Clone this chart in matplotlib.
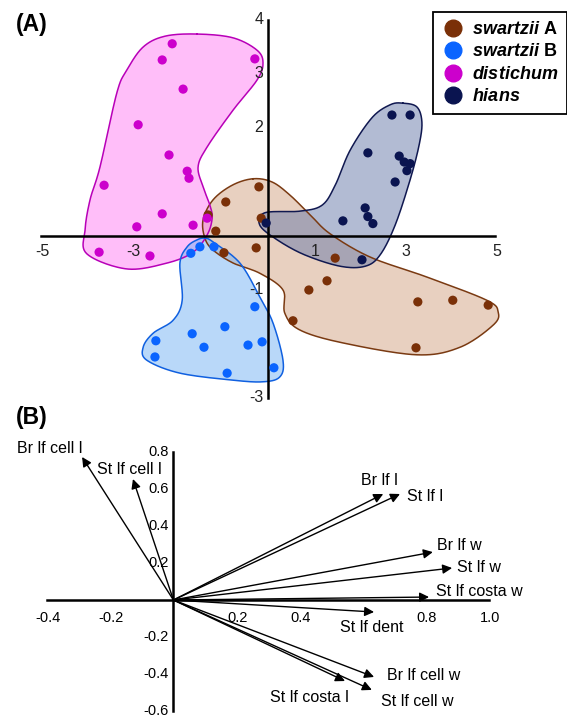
import matplotlib
matplotlib.use('Agg')
import matplotlib.pyplot as plt
from matplotlib.lines import Line2D
import numpy as np

plt.rcParams['font.family'] = ['Liberation Sans', 'DejaVu Sans']
plt.rcParams['mathtext.fontset'] = 'custom'
plt.rcParams['mathtext.it'] = 'Liberation Sans:italic:bold'
plt.rcParams['mathtext.rm'] = 'Liberation Sans:bold'

# ---- (A) ordination scores ----
swA_x = [-0.20, -0.93, -1.32, -1.15, -0.15, -0.26, -0.97, 1.48, 1.30, 0.90, 3.30, 4.07, 4.85, 0.55, 3.26]
swA_y = [0.91, 0.63, 0.39, 0.09, 0.33, -0.22, -0.31, -0.41, -0.83, -1.00, -1.22, -1.19, -1.28, -1.57, -2.07]
swB_x = [-1.50, -1.70, -1.19, -0.29, -0.95, -1.67, -2.47, -1.41, -0.44, -0.13, -2.49, 0.13, -0.90]
swB_y = [-0.20, -0.32, -0.20, -1.31, -1.68, -1.81, -1.94, -2.06, -2.02, -1.96, -2.24, -2.44, -2.54]
dist_x = [-2.11, -2.33, -0.29, -1.87, -2.86, -2.18, -1.78, -1.74, -3.61, -2.33, -2.89, -1.65, -1.34, -3.72, -2.60]
dist_y = [3.56, 3.26, 3.28, 2.72, 2.06, 1.50, 1.20, 1.07, 0.94, 0.41, 0.17, 0.20, 0.33, -0.30, -0.37]
hians_x = [2.73, 3.13, 2.20, 2.89, 3.00, 3.13, 3.06, 2.80, 2.14, 2.20, 2.31, 1.65, -0.04, 2.07]
hians_y = [2.24, 2.24, 1.54, 1.48, 1.37, 1.34, 1.21, 1.00, 0.52, 0.36, 0.23, 0.28, 0.24, -0.44]

# hand-drawn group outlines (vertices in data units)
swA_outline = [(-0.33, 1.06), (0.09, 1.00), (0.48, 0.76), (0.93, 0.39), (1.37, 0.04), (2.25, -0.39),
               (3.50, -0.76), (4.82, -1.19), (5.07, -1.41), (4.96, -1.65), (4.23, -2.06), (3.28, -2.20),
               (1.65, -1.98), (0.70, -1.74), (0.37, -1.43), (0.33, -1.00), (-0.18, -0.69), (-0.77, -0.50),
               (-1.21, -0.26), (-1.39, -0.04), (-1.43, 0.30), (-1.21, 0.67), (-0.79, 0.94)]
swB_outline = [(-1.39, -0.04), (-1.21, -0.11), (-0.62, -0.50), (-0.18, -1.13), (0.11, -1.61), (0.33, -2.30),
               (0.26, -2.61), (-0.11, -2.70), (-0.77, -2.67), (-1.94, -2.54), (-2.67, -2.30), (-2.75, -2.06),
               (-2.53, -1.80), (-2.09, -1.56), (-1.89, -1.19), (-1.94, -0.50), (-1.78, -0.20), (-1.56, -0.07)]
dist_outline = [(-1.56, 3.74), (-0.77, 3.67), (-0.24, 3.44), (-0.11, 3.20), (-0.24, 2.89), (-0.77, 2.33),
                (-1.34, 1.65), (-1.54, 1.28), (-1.43, 0.91), (-1.28, 0.57), (-1.23, 0.33), (-1.34, 0.02),
                (-1.65, -0.30), (-2.22, -0.50), (-3.11, -0.61), (-3.99, -0.33), (-4.03, 0.11), (-3.92, 0.67),
                (-3.70, 1.28), (-3.33, 2.65), (-3.11, 3.07), (-2.75, 3.50), (-2.27, 3.70)]
hians_outline = [(2.97, 2.46), (3.28, 2.39), (3.39, 2.11), (3.33, 1.69), (3.13, 1.04), (2.80, 0.20),
                 (2.47, -0.35), (2.14, -0.56), (1.59, -0.56), (0.81, -0.35), (0.20, -0.07), (-0.18, 0.20),
                 (-0.07, 0.43), (0.70, 0.46), (1.19, 0.57), (1.48, 0.94), (1.81, 1.59), (2.29, 2.19), (2.69, 2.43)]

a_xticks = [-5, -3, 1, 3, 5]
a_yticks = [4, 3, 2, -1, -3]

# ---- (B) variable loadings ----
var_names = ['Br lf cell l', 'St lf cell l', 'Br lf l', 'St lf l', 'Br lf w', 'St lf w',
             'St lf costa w', 'St lf dent', 'Br lf cell w', 'St lf cell w', 'St lf costa l']
load_x = [-0.289, -0.128, 0.664, 0.717, 0.821, 0.882, 0.809, 0.635, 0.635, 0.628, 0.543]
load_y = [0.773, 0.654, 0.573, 0.573, 0.259, 0.173, 0.016, -0.065, -0.416, -0.486, -0.438]
b_xticks = [-0.4, -0.2, 0.2, 0.4, 0.8, 1.0]
b_yticks = [0.8, 0.6, 0.4, 0.2, -0.2, -0.4, -0.6]

# label offsets from arrow tip (points) and alignment
lab_off = [(0, 6), (-26, 7), (-16, 10), (5, -2), (3, 5), (3.5, 0.7), (5, 4.3),
           (-24.5, -11.5), (9.4, 0.7), (6.5, -8.6), (-54, -12.2)]
lab_ha = ['right'] + ['left'] * 10


def smooth_closed(pts, n=24):
    # closed Catmull-Rom curve through the outline vertices
    P = np.asarray(pts, dtype=float)
    N = len(P)
    t = np.linspace(0, 1, n, endpoint=False)[:, None]
    segs = []
    for i in range(N):
        p0, p1, p2, p3 = P[i - 1], P[i], P[(i + 1) % N], P[(i + 2) % N]
        segs.append(0.5 * (2 * p1 + (-p0 + p2) * t + (2 * p0 - 5 * p1 + 4 * p2 - p3) * t ** 2
                           + (-p0 + 3 * p1 - 3 * p2 + p3) * t ** 3))
    return np.vstack(segs)


W, H = 567, 719
fig = plt.figure(figsize=(W / 100, H / 100), dpi=100)

# ---------- panel A ----------
axA = fig.add_axes([0, 1 - 405 / H, 1, 405 / H])
axA.set_xlim(-268 / 45.4, (W - 268) / 45.4)
axA.set_ylim((236 - 405) / 54, 236 / 54)
axA.axis('off')

groups = [
    ('swA', swA_x, swA_y, swA_outline, '#7a3008', '#d2a283', '#7a3a12'),
    ('hians', hians_x, hians_y, hians_outline, '#0a1450', '#6779a9', '#101850'),
    ('dist', dist_x, dist_y, dist_outline, '#cc00cc', '#ff7ff4', '#b800b8'),
    ('swB', swB_x, swB_y, swB_outline, '#0a64ff', '#75b3f5', '#1060e0'),
]
for name, gx, gy, outline, dot, fill, edge in groups:
    c = smooth_closed(outline)
    axA.fill(c[:, 0], c[:, 1], color=fill, alpha=0.5, lw=0, zorder=1)
    axA.plot(np.append(c[:, 0], c[0, 0]), np.append(c[:, 1], c[0, 1]), color=edge, lw=1.1, zorder=2)

axA.plot([-5, 5], [0, 0], color='black', lw=1.8, zorder=3)
axA.plot([0, 0], [-3, 4], color='black', lw=1.8, zorder=3)

for name, gx, gy, outline, dot, fill, edge in groups:
    axA.scatter(gx, gy, s=44, color=dot, edgecolors='none', zorder=4)

for v in a_xticks:
    axA.annotate(f'{v}', (v, 0), xytext=(1, -11.5), textcoords='offset points',
                 ha='center', va='center', fontsize=11.5, color='#222222')
for v in a_yticks:
    axA.annotate(f'{v}', (0, v), xytext=(-3.5, 0), textcoords='offset points',
                 ha='right', va='center', fontsize=11.5, color='#222222')

handles = [Line2D([], [], ls='none', marker='o', markersize=12, color=c)
           for c in ['#7a3008', '#0a64ff', '#cc00cc', '#0a1450']]
labels = [r'$\mathit{swartzii}$ A', r'$\mathit{swartzii}$ B', r'$\mathit{distichum}$', r'$\mathit{hians}$']
leg = axA.legend(handles, labels, loc='upper right', bbox_to_anchor=(1.0, 1 - 12 / 405),
                 borderaxespad=0, fancybox=False, framealpha=1, edgecolor='black',
                 prop={'size': 13, 'weight': 'bold'}, handlelength=1.2, handletextpad=0.45,
                 borderpad=0.5, labelspacing=0.3)
leg.get_frame().set_linewidth(1.3)

# ---------- panel B ----------
axB = fig.add_axes([0, 0, 1, 314 / H])
axB.set_xlim(-173.4 / 316, (W - 173.4) / 316)
axB.set_ylim((600 - 719) / 185, (600 - 405) / 185)
axB.axis('off')

axB.plot([-0.4, 1.0], [0, 0], color='black', lw=1.8, zorder=1)
axB.plot([0, 0], [-0.6, 0.8], color='black', lw=1.8, zorder=1)

for name, lx, ly, off, ha in zip(var_names, load_x, load_y, lab_off, lab_ha):
    axB.annotate('', xy=(lx, ly), xytext=(0, 0),
                 arrowprops=dict(arrowstyle='-|>', color='black', lw=1.0,
                                 shrinkA=0, shrinkB=0, mutation_scale=14), zorder=2)
    axB.annotate(name, (lx, ly), xytext=off, textcoords='offset points',
                 ha=ha, va='center', fontsize=11.5)

for v in b_xticks:
    axB.annotate(f'{v:.1f}', (v, 0), xytext=(0.5, -13), textcoords='offset points',
                 ha='center', va='center', fontsize=10.5)
for v in b_yticks:
    axB.annotate(f'{v:.1f}', (0, v), xytext=(-3.6, 0), textcoords='offset points',
                 ha='right', va='center', fontsize=10.5)

fig.text(16 / W, 1 - 24 / H, '(A)', fontsize=16.5, fontweight='bold', ha='left', va='center')
fig.text(16 / W, 1 - 417 / H, '(B)', fontsize=16.5, fontweight='bold', ha='left', va='center')

fig.savefig('out.png', dpi=100)
